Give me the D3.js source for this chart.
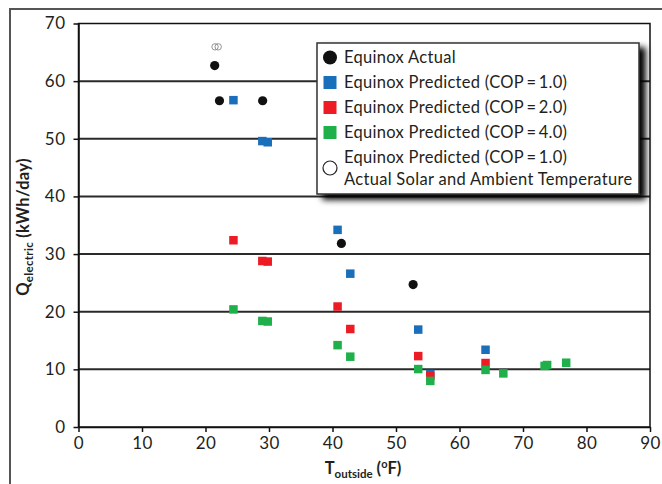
<!DOCTYPE html>
<html><head><meta charset="utf-8">
<script src="https://cdn.jsdelivr.net/npm/d3@7"></script>
<style>
body{margin:0;background:#fff;}
text{font-family:"Lato","Open Sans",sans-serif;fill:#231f20;}
</style></head>
<body><svg id="c" width="662" height="484"></svg>
<script>
// ---- data ----
const actualT = [21.45, 22.2, 29.0, 41.4, 52.7];
const actualQ = [62.7, 56.6, 56.6, 31.85, 24.7];
const predT = [24.4, 28.95, 29.8, 40.8, 42.8, 53.5, 55.4, 64.1];
const cop1Q = [56.7, 49.6, 49.4, 34.2, 26.6, 16.9, 9.2, 13.4];
const cop2Q = [32.4, 28.8, 28.7, 20.9, 17.0, 12.3, 8.85, 11.1];
const cop4T = [24.4, 28.95, 29.8, 40.8, 42.8, 53.5, 55.4, 64.1, 66.9, 73.4, 73.8, 76.8];
const cop4Q = [20.4, 18.4, 18.3, 14.2, 12.2, 10.05, 8.0, 9.9, 9.3, 10.6, 10.75, 11.15];
const solarT = [21.5, 22.0];
const solarQ = [65.95, 65.95];
const xTicks = [0,10,20,30,40,50,60,70,80,90];
const yTicks = [0,10,20,30,40,50,60,70];
const legendLabels = ["Equinox Actual","Equinox Predicted (COP\u2009=\u20091.0)","Equinox Predicted (COP\u2009=\u20092.0)","Equinox Predicted (COP\u2009=\u20094.0)","Equinox Predicted (COP\u2009=\u20091.0)","Actual Solar and Ambient Temperature"];
const colors = {blue:"#1a6fba", red:"#ed1c24", green:"#1fb04b", black:"#111"};

const svg = d3.select("#c");
const L=78.5, R=650, T=23.5, B=427;
const x = d3.scaleLinear().domain([0,90]).range([L,R]);
const y = d3.scaleLinear().domain([0,70]).range([B,T]);

// outer frame
svg.append("path").attr("d",`M10,484 L10,9 L662,9`).attr("fill","none").attr("stroke","#555").attr("stroke-width",2);

// gridlines
svg.append("g").selectAll("line").data(yTicks.filter(d=>d>0&&d<70)).join("line")
  .attr("x1",L).attr("x2",R).attr("y1",d=>y(d)).attr("y2",d=>y(d))
  .attr("stroke","#2a2a2a").attr("stroke-width",2);

// plot border
svg.append("rect").attr("x",L).attr("y",T).attr("width",R-L).attr("height",B-T)
  .attr("fill","none").attr("stroke","#111").attr("stroke-width",1.5);

// axes
const xAxis = svg.append("g").attr("transform",`translate(0,${B})`)
  .call(d3.axisBottom(x).tickValues(xTicks).tickSize(5).tickSizeOuter(0).tickPadding(5));
const yAxis = svg.append("g").attr("transform",`translate(${L},0)`)
  .call(d3.axisLeft(y).tickValues(yTicks).tickSize(5).tickSizeOuter(0).tickPadding(8));
[xAxis,yAxis].forEach(a=>{
  a.select(".domain").attr("stroke","#111").attr("stroke-width",1.5);
  a.selectAll(".tick line").attr("stroke","#111").attr("stroke-width",1.5);
  a.selectAll(".tick text").attr("font-size",17).attr("fill","#231f20")
   .style("font-family","Lato, sans-serif").style("letter-spacing","0.5px");
});

// markers
const sq = 8.5;
function squares(tArr,qArr,col){
  svg.append("g").selectAll("rect").data(qArr).join("rect")
    .attr("x",(d,i)=>x(tArr[i])-sq/2).attr("y",d=>y(d)-sq/2)
    .attr("width",sq).attr("height",sq).attr("fill",col);
}
squares(predT,cop1Q,colors.blue);
squares(predT,cop2Q,colors.red);
squares(cop4T,cop4Q,colors.green);
svg.append("g").selectAll("circle").data(actualQ).join("circle")
  .attr("cx",(d,i)=>x(actualT[i])).attr("cy",d=>y(d)).attr("r",4.6).attr("fill",colors.black);
svg.append("g").selectAll("circle").data(solarQ).join("circle")
  .attr("cx",(d,i)=>x(solarT[i])).attr("cy",d=>y(d)).attr("r",3.2)
  .attr("fill","none").attr("stroke","#888").attr("stroke-width",0.9);

// axis titles
const xt = svg.append("text").attr("x",363).attr("y",474).attr("text-anchor","middle")
  .attr("font-size",16.5).attr("font-weight","bold");
xt.append("tspan").text("T");
xt.append("tspan").attr("font-size",11.5).attr("dy",4).text("outside");
xt.append("tspan").attr("dy",-4).text(" (");
xt.append("tspan").attr("font-size",11).attr("dy",-6).text("o");
xt.append("tspan").attr("dy",6).text("F)");

const yt = svg.append("text").attr("transform","translate(29,227) rotate(-90)").attr("text-anchor","middle")
  .attr("font-size",16.5).attr("font-weight","bold").style("letter-spacing","0.3px");
yt.append("tspan").text("Q");
yt.append("tspan").attr("font-size",11.5).attr("dy",4).text("electric");
yt.append("tspan").attr("dy",-4).text(" (kWh/day)");

// legend
const defs = svg.append("defs");
const f = defs.append("filter").attr("id","sh").attr("x","-10%").attr("y","-10%").attr("width","130%").attr("height","130%");
f.append("feGaussianBlur").attr("in","SourceAlpha").attr("stdDeviation",3);
f.append("feOffset").attr("dx",6).attr("dy",5).attr("result","b");
const fm = f.append("feMerge"); fm.append("feMergeNode").attr("in","b"); fm.append("feMergeNode").attr("in","SourceGraphic");
const lg = svg.append("g");
lg.append("rect").attr("x",317).attr("y",43).attr("width",322).attr("height",151)
  .attr("fill","#fff").attr("stroke","#333").attr("stroke-width",1.5).attr("filter","url(#sh)");
const rowY = [57.5,82.5,107.5,132.5,157.5,179.5];
const tx = 344;
legendLabels.forEach((s,i)=>{
  lg.append("text").attr("x",tx).attr("y",rowY[i]).attr("dy","0.35em").attr("font-size",16.5)
    .style("letter-spacing","0.3px").text(s);
});
lg.append("circle").attr("cx",330).attr("cy",rowY[0]).attr("r",7).attr("fill",colors.black);
[colors.blue,colors.red,colors.green].forEach((c,i)=>{
  lg.append("rect").attr("x",323.5).attr("y",rowY[i+1]-6.5).attr("width",13).attr("height",13).attr("fill",c);
});
lg.append("circle").attr("cx",330).attr("cy",168).attr("r",7).attr("fill","#fff").attr("stroke","#222").attr("stroke-width",1.2);
</script></body></html>
